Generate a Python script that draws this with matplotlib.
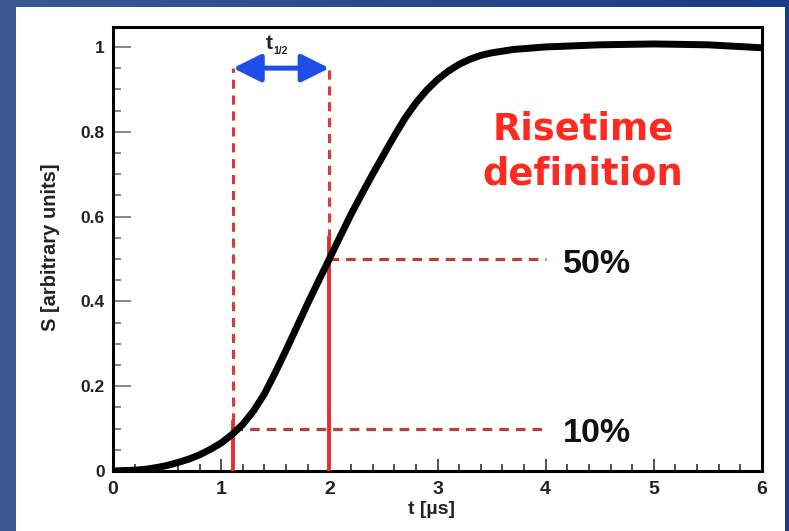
import matplotlib.pyplot as plt
import numpy as np
from matplotlib.colors import LinearSegmentedColormap
from matplotlib.patches import FancyArrowPatch, Rectangle

# signal shape read at sample times (t in microseconds, S normalised)
t_us = [0.0, 0.2, 0.3, 0.4, 0.5, 0.6, 0.7, 0.8, 0.9, 1.0, 1.1, 1.2, 1.3,
        1.4, 1.5, 1.6, 1.7, 1.8, 1.9, 2.0, 2.1, 2.2, 2.3, 2.4, 2.5, 2.6,
        2.7, 2.8, 2.9, 3.0, 3.1, 3.2, 3.3, 3.4, 3.5, 3.6, 3.7, 3.8, 4.0,
        4.5, 5.0, 5.5, 6.0]
signal = [0.0, 0.002, 0.004, 0.008, 0.013, 0.02, 0.028, 0.038, 0.051, 0.066,
          0.086, 0.11, 0.142, 0.182, 0.232, 0.285, 0.34, 0.395, 0.448, 0.5,
          0.553, 0.605, 0.653, 0.70, 0.745, 0.79, 0.832, 0.868, 0.898, 0.923,
          0.943, 0.959, 0.971, 0.98, 0.986, 0.99, 0.994, 0.996, 1.0,
          1.005, 1.007, 1.005, 0.998]

# risetime markers
levels = [0.1, 0.5]
level_labels = ["10%", "50%"]
t_levels = [1.11, 2.0]
solid_top = [0.115, 0.55]
marker_top = 0.95
level_end = 4.0

x_ticks = [0, 1, 2, 3, 4, 5, 6]
y_ticks = [0, 0.2, 0.4, 0.6, 0.8, 1.0]
y_tick_labels = ["0", "0.2", "0.4", "0.6", "0.8", "1"]

fig = plt.figure(figsize=(7.89, 5.31), dpi=100)

# blue slide background with white panel
bg = fig.add_axes([0, 0, 1, 1], zorder=-2)
cmap = LinearSegmentedColormap.from_list("slide", ["#3a5892", "#1a3b86"])
bg.imshow(np.linspace(0, 1, 256)[None, :], aspect="auto", cmap=cmap,
          extent=[0, 1, 0, 1])
bg.set_axis_off()
fig.patches.append(Rectangle((16 / 789, 0), 769 / 789, 524 / 531,
                             transform=fig.transFigure, facecolor="white",
                             edgecolor="none", zorder=-1))

ax = fig.add_axes([113 / 789, 1 - 471 / 531, 649 / 789, 444 / 531])
ax.set_facecolor("white")

ax.plot(t_us, signal, color="black", lw=5, solid_capstyle="round",
        solid_joinstyle="round", zorder=5)

for t0, top in zip(t_levels, solid_top):
    ax.plot([t0, t0], [0, top], color="#ee2b2b", lw=2.8, zorder=4)
    ax.plot([t0, t0], [top, marker_top], color="#d83a3c", lw=2.2,
            dashes=(3, 2.2), zorder=4)

for t0, lev, lab in zip(t_levels, levels, level_labels):
    ax.plot([t0, level_end], [lev, lev], color="#bb3e3e", lw=2.3,
            dashes=(3, 2.2), zorder=3)
    ax.text(4.16, lev - 0.012, lab, fontsize=24.5, fontweight="bold",
            family="Liberation Sans", color="#111111", va="center", ha="left")

arrow = FancyArrowPatch((t_levels[0], marker_top), (t_levels[1], marker_top),
                        arrowstyle="<|-|>,head_length=1.0,head_width=0.5",
                        mutation_scale=17, lw=3.6, color="#1f4ee6",
                        shrinkA=0, shrinkB=0, zorder=6)
ax.add_patch(arrow)
ax.text(1.44, 1.008, "t", fontsize=15, fontweight="bold",
        family="Liberation Sans", color="#222222", ha="center", va="center")
ax.text(1.55, 0.99, "1/2", fontsize=7.5, fontweight="bold",
        family="Liberation Sans", color="#222222", ha="center", va="center")

ax.text(4.345, 0.806, "Risetime", fontsize=26.5, fontweight="bold",
        family="DejaVu Sans", color="#ff2a1f", ha="center", va="center")
ax.text(4.345, 0.700, "definition", fontsize=26.5, fontweight="bold",
        family="DejaVu Sans", color="#ff2a1f", ha="center", va="center")

ax.set_xlim(0, 6)
ax.set_ylim(0, 1.047)
ax.set_xticks(x_ticks)
ax.set_xticklabels([str(v) for v in x_ticks])
ax.set_yticks(y_ticks)
ax.set_yticklabels(y_tick_labels)
ax.set_xticks(np.arange(0, 6.01, 0.2), minor=True)
ax.set_yticks(np.arange(0, 1.01, 0.05), minor=True)

for lab in ax.get_xticklabels():
    lab.set_family("Liberation Sans")
    lab.set_fontweight("bold")
    lab.set_fontsize(14)
for lab in ax.get_yticklabels():
    lab.set_family("Liberation Sans")
    lab.set_fontweight("bold")
    lab.set_fontsize(12.5)

ax.tick_params(axis="both", which="both", direction="in", top=False,
               right=False, colors="#222222", width=1.1)
ax.tick_params(axis="y", which="major", length=13, pad=6)
ax.tick_params(axis="y", which="minor", length=6)
ax.tick_params(axis="x", which="major", length=9, pad=7)
ax.tick_params(axis="x", which="minor", length=5)
ax.tick_params(axis="y", which="both", color="#666666")

for sp in ax.spines.values():
    sp.set_linewidth(2.2)
    sp.set_color("black")

ax.set_xlabel("t [µs]", fontsize=14, fontweight="bold",
              family="Liberation Sans", color="#222222")
ax.xaxis.set_label_coords(0.4915, -0.068)
ax.set_ylabel("S [arbitrary units]", fontsize=14.5, fontweight="bold",
              family="Liberation Sans", color="#222222")
ax.yaxis.set_label_coords(-0.082, 0.505)

fig.savefig("out.png", dpi=100)
